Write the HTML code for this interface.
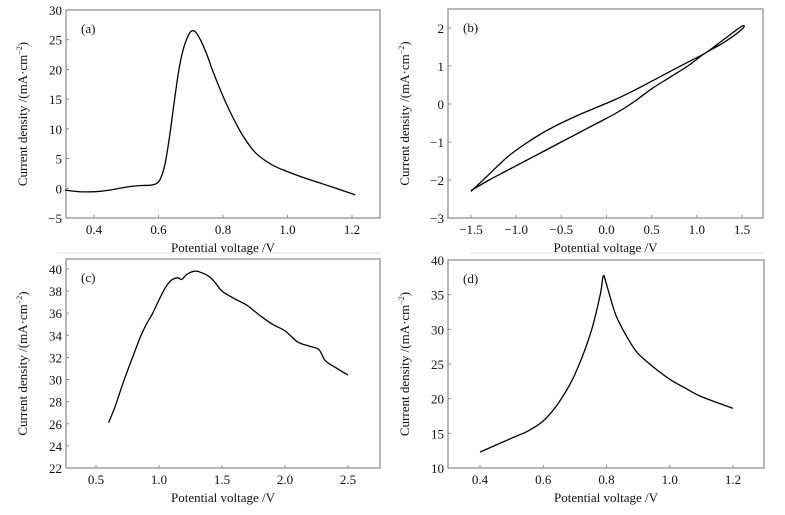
<!DOCTYPE html>
<html><head><meta charset="utf-8"><style>
body{margin:0;background:#fff}
svg text{font-family:"Liberation Serif",serif;fill:#111}
</style></head><body>
<svg id="fig" width="785" height="510" xmlns="http://www.w3.org/2000/svg">
<line x1="57" y1="253" x2="380" y2="253" stroke="#ddd" stroke-width="1"/>
<line x1="470" y1="253" x2="763" y2="253" stroke="#ddd" stroke-width="1"/>
</svg>
<script>
// Panel (a)
const aX=[0.31,0.35,0.38,0.42,0.46,0.5,0.54,0.57,0.59,0.605,0.62,0.635,0.65,0.665,0.68,0.695,0.705,0.715,0.73,0.75,0.77,0.8,0.83,0.86,0.9,0.95,1.0,1.05,1.1,1.15,1.21];
const aY=[-0.3,-0.55,-0.6,-0.5,-0.2,0.2,0.45,0.5,0.7,1.5,4,9,15,20.5,24,26,26.5,26.3,25,22.5,19.5,15.5,12,9,6,4,2.8,1.8,0.9,0,-1.1];
const aXTicks=[0.4,0.6,0.8,1.0,1.2];
const aXLabels=["0.4","0.6","0.8","1.0","1.2"];
const aYTicks=[-5,0,5,10,15,20,25,30];
const aYLabels=["\u22125","0","5","10","15","20","25","30"];
// Panel (b)
const bX=[-1.5,-1.3,-1.1,-0.9,-0.7,-0.5,-0.3,-0.1,0.1,0.3,0.5,0.7,0.9,1.1,1.3,1.5,1.5,1.3,1.1,0.9,0.7,0.5,0.3,0.1,-0.1,-0.3,-0.5,-0.7,-0.9,-1.1,-1.3,-1.5];
const bY=[-2.3,-1.85,-1.4,-1.05,-0.75,-0.5,-0.28,-0.08,0.12,0.35,0.6,0.85,1.1,1.35,1.7,2.05,1.97,1.62,1.35,1.0,0.7,0.4,0.05,-0.25,-0.5,-0.75,-1.0,-1.25,-1.5,-1.75,-2.0,-2.28];
const bXTicks=[-1.5,-1.0,-0.5,0,0.5,1.0,1.5];
const bXLabels=["\u22121.5","\u22121.0","\u22120.5","0.0","0.5","1.0","1.5"];
const bYTicks=[-3,-2,-1,0,1,2];
const bYLabels=["\u22123","\u22122","\u22121","0","1","2"];
// Panel (c)
const cX=[0.6,0.65,0.7,0.75,0.8,0.85,0.9,0.95,1.0,1.05,1.1,1.15,1.18,1.22,1.28,1.33,1.4,1.45,1.5,1.6,1.7,1.8,1.9,2.0,2.1,2.2,2.27,2.32,2.4,2.5];
const cY=[26.1,27.5,29.2,30.8,32.3,33.8,35,36,37.2,38.3,39.0,39.2,39.05,39.5,39.8,39.7,39.3,38.7,38.0,37.3,36.7,35.8,35.0,34.4,33.4,33.0,32.7,31.7,31.1,30.4];
const cXTicks=[0.5,1.0,1.5,2.0,2.5];
const cXLabels=["0.5","1.0","1.5","2.0","2.5"];
const cYTicks=[22,24,26,28,30,32,34,36,38,40];
const cYLabels=["22","24","26","28","30","32","34","36","38","40"];
// Panel (d)
const dX=[0.4,0.5,0.55,0.6,0.65,0.7,0.75,0.78,0.79,0.8,0.83,0.87,0.9,0.95,1.0,1.05,1.1,1.2];
const dY=[12.3,14.3,15.3,16.8,19.5,23.5,29.5,35,37.7,36.5,32,28.5,26.5,24.5,22.8,21.5,20.3,18.6];
const dXTicks=[0.4,0.6,0.8,1.0,1.2];
const dXLabels=["0.4","0.6","0.8","1.0","1.2"];
const dYTicks=[10,15,20,25,30,35,40];
const dYLabels=["10","15","20","25","30","35","40"];

const NS="http://www.w3.org/2000/svg";
const svg=document.getElementById('fig');
function mk(tag,attrs,parent){const e=document.createElementNS(NS,tag);for(const k in attrs)e.setAttribute(k,attrs[k]);(parent||svg).appendChild(e);return e;}
function lin(d0,d1,r0,r1){return v=>r0+(v-d0)*(r1-r0)/(d1-d0);}

function panel(id,box,xd,yd,xs,ys,xt,xl,yt,yl,smooth){
  const g=mk('g',{});
  
  
  const sx=lin(xd[0],xd[1],box.x0,box.x1), sy=lin(yd[0],yd[1],box.y1,box.y0);
  const fr=mk('rect',{x:box.x0,y:box.y0,width:box.x1-box.x0,height:box.y1-box.y0,fill:'none',stroke:'#8a8a8a','stroke-width':1.2},g);
  
  
  xt.forEach((v,i)=>{
    const x=sx(v);
    const tk=mk('line',{x1:x,x2:x,y1:box.y1,y2:box.y1-3,stroke:'#8a8a8a'},g);
    
    
    const t=mk('text',{x:x,y:box.y1+16,'text-anchor':'middle','font-size':13},g);
    t.textContent=xl[i];
    
    
  });
  yt.forEach((v,i)=>{
    const y=sy(v);
    const tk=mk('line',{x1:box.x0,x2:box.x0+3,y1:y,y2:y,stroke:'#8a8a8a'},g);
    
    
    const t=mk('text',{x:box.x0-4,y:y+5,'text-anchor':'end','font-size':13},g);
    t.textContent=yl[i];
    
    
  });
  const xtl=mk('text',{x:(box.x0+box.x1)/2,y:box.y1+34,'text-anchor':'middle','font-size':13},g);
  xtl.textContent='Potential voltage /V';
  
  
  const cx=box.x0-39, cy=(box.y0+box.y1)/2;
  const ytl=mk('text',{x:cx,y:cy,'text-anchor':'middle','font-size':13,transform:`rotate(-90 ${cx} ${cy})`},g);
  ytl.innerHTML='Current density /(mA·cm<tspan dy="-5" font-size="8">\u22122</tspan><tspan dy="5">)</tspan>';
  
  
  const lb=mk('text',{x:box.x0+15,y:box.y0+23,'font-size':13},g);
  lb.textContent='('+id+')';
  
  
  const P=xs.map((v,i)=>[sx(v),sy(ys[i])]);
  let d='M'+P[0][0].toFixed(1)+','+P[0][1].toFixed(1);
  for(let i=0;i<P.length-1;i++){
    const p0=P[Math.max(0,i-1)],p1=P[i],p2=P[i+1],p3=P[Math.min(P.length-1,i+2)];
    if(smooth){
      const c1=[p1[0]+(p2[0]-p0[0])/6,p1[1]+(p2[1]-p0[1])/6],c2=[p2[0]-(p3[0]-p1[0])/6,p2[1]-(p3[1]-p1[1])/6];
      d+=`C${c1[0].toFixed(1)},${c1[1].toFixed(1)} ${c2[0].toFixed(1)},${c2[1].toFixed(1)} ${p2[0].toFixed(1)},${p2[1].toFixed(1)}`;
    } else d+='L'+p2[0].toFixed(1)+','+p2[1].toFixed(1);
  }
  const ln=mk('path',{d:d,fill:'none',stroke:'#000','stroke-width':1.3},g);
  
  
}
panel('a',{x0:66,x1:380,y0:10,y1:218},[0.4-28/32.25*0.1,0.4+286/32.25*0.1],[-5,30],aX,aY,aXTicks,aXLabels,aYTicks,aYLabels,true);
panel('b',{x0:448,x1:763,y0:9,y1:218},[-1.5-23/90.33*1,-1.5+292/90.33],[-3,2.5],bX,bY,bXTicks,bXLabels,bYTicks,bYLabels,true);
panel('c',{x0:66,x1:380,y0:259,y1:468},[0.5-30/126,0.5+284/126],[22,40.9],cX,cY,cXTicks,cXLabels,cYTicks,cYLabels,true);
panel('d',{x0:448,x1:764,y0:260,y1:468},[0.4-32/316.25,0.4+284/316.25],[10,40],dX,dY,dXTicks,dXLabels,dYTicks,dYLabels,true);
</script>
</body></html>
